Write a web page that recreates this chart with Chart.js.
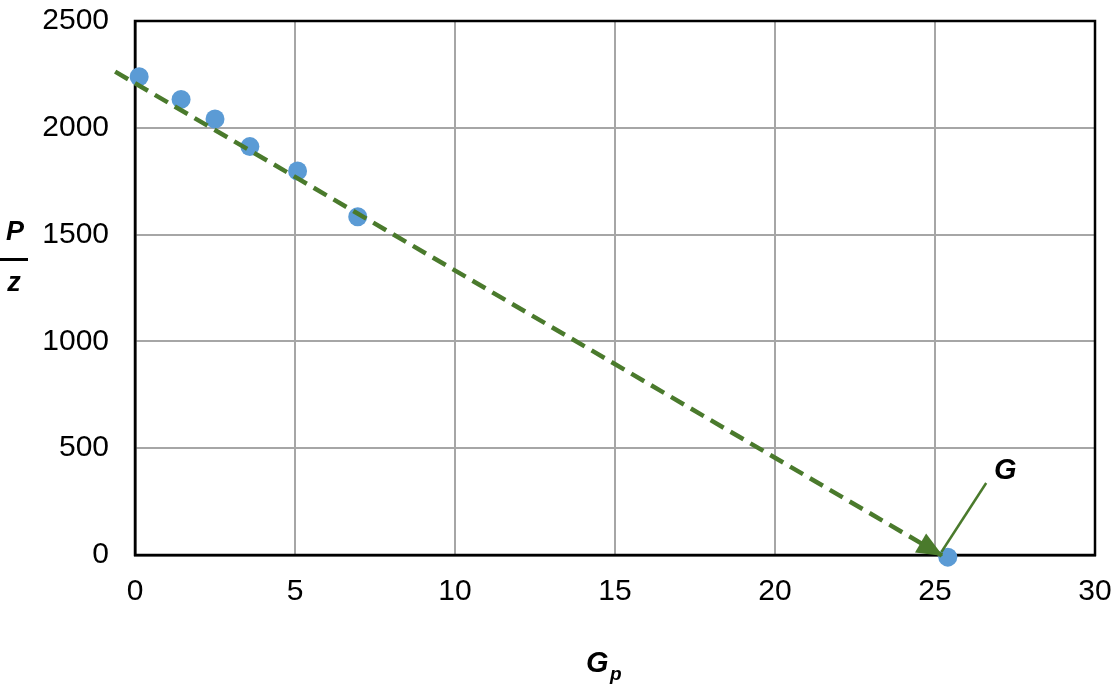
<!DOCTYPE html>
<html>
<head>
<meta charset="utf-8">
<script src="https://cdn.jsdelivr.net/npm/chart.js@4"></script>
<style>
  html, body { margin: 0; padding: 0; background: #fff; }
  #wrap { width: 1117px; height: 688px; }
</style>
</head>
<body>
<div id="wrap"><canvas id="myChart"></canvas></div>
<script>
// measured points
var gpValues = [0.13, 1.44, 2.5, 3.59, 5.08, 6.96, 25.4];
var pzValues = [2239, 2133, 2041, 1912, 1798, 1584, -10];

// dashed fit line, extended to the intercept G
var fitX = [-0.62, 25.25];
var fitY = [2263, -5];

// pointer from the "G" label to the intercept
var pointerX = [26.6, 25.2];
var pointerY = [337, 14];

var xTicks = [0, 5, 10, 15, 20, 25, 30];
var yTicks = [0, 500, 1000, 1500, 2000, 2500];

var green = '#4a7a2c';
var blue = '#5b9bd5';

function toXY(xs, ys) {
    return xs.map(function (x, i) { return { x: x, y: ys[i] }; });
}

// black frame, axis titles, arrowhead, G label
var decorations = {
    id: 'decorations',
    beforeDatasetsDraw: function (chart) {
        var a = chart.chartArea, ctx = chart.ctx;
        ctx.save();
        ctx.strokeStyle = '#000';
        ctx.lineWidth = 2.5;
        ctx.strokeRect(a.left, a.top, a.right - a.left, a.bottom - a.top);
        ctx.restore();
    },
    afterDatasetsDraw: function (chart) {
        var ctx = chart.ctx, xs = chart.scales.x, ys = chart.scales.y;
        ctx.save();

        // arrowhead at the end of the fit line
        var x0 = xs.getPixelForValue(fitX[0]), y0 = ys.getPixelForValue(fitY[0]);
        var x1 = xs.getPixelForValue(fitX[1]), y1 = ys.getPixelForValue(fitY[1]);
        var ang = Math.atan2(y1 - y0, x1 - x0);
        var len = 26, half = 11;
        ctx.fillStyle = green;
        ctx.beginPath();
        ctx.moveTo(x1, y1);
        ctx.lineTo(x1 - len * Math.cos(ang) + half * Math.sin(ang), y1 - len * Math.sin(ang) - half * Math.cos(ang));
        ctx.lineTo(x1 - len * Math.cos(ang) - half * Math.sin(ang), y1 - len * Math.sin(ang) + half * Math.cos(ang));
        ctx.closePath();
        ctx.fill();

        // G label
        ctx.fillStyle = '#000';
        ctx.font = 'italic bold 29px "Liberation Sans", Arial, sans-serif';
        ctx.textAlign = 'center';
        ctx.textBaseline = 'middle';
        ctx.fillText('G', xs.getPixelForValue(pointerX[0]) + 19, ys.getPixelForValue(pointerY[0]) - 12);

        // y title: P over z
        ctx.font = 'italic bold 27px "Liberation Sans", Arial, sans-serif';
        ctx.textBaseline = 'alphabetic';
        ctx.fillText('P', 15, 240);
        ctx.fillText('z', 14, 291);
        ctx.fillRect(0, 258, 28, 3);

        // x title: G with subscript p
        ctx.font = 'italic bold 29px "Liberation Sans", Arial, sans-serif';
        ctx.textAlign = 'left';
        ctx.fillText('G', 586, 672);
        ctx.font = 'italic bold 19px "Liberation Sans", Arial, sans-serif';
        ctx.fillText('p', 610, 680);
        ctx.restore();
    }
};

var tickFont = { family: '"Liberation Sans", Arial, sans-serif', size: 30 };

var ctx = document.getElementById('myChart').getContext('2d');
var myChart = new Chart(ctx, {
    type: 'scatter',
    data: {
        datasets: [{
                label: 'P/z',
                data: toXY(gpValues, pzValues),
                backgroundColor: blue,
                borderColor: blue,
                pointRadius: 9.5,
                pointBorderWidth: 0,
                clip: false,
                order: 2
            },
            {
                label: 'fit',
                type: 'line',
                data: toXY(fitX, fitY),
                borderColor: green,
                borderWidth: 4.5,
                borderDash: [15, 8],
                pointRadius: 0,
                fill: false,
                clip: false,
                order: 1
            },
            {
                label: 'G pointer',
                type: 'line',
                data: toXY(pointerX, pointerY),
                borderColor: green,
                borderWidth: 2.5,
                pointRadius: 0,
                fill: false,
                clip: false,
                order: 1
            }
        ]
    },
    options: {
        responsive: true,
        maintainAspectRatio: false,
        animation: false,
        layout: { padding: { left: 0, top: 21, right: 22, bottom: 0 } },
        plugins: {
            legend: { display: false },
            tooltip: { enabled: false }
        },
        scales: {
            x: {
                type: 'linear',
                min: 0,
                max: 30,
                afterBuildTicks: function (scale) {
                    scale.ticks = xTicks.map(function (v) { return { value: v }; });
                },
                afterFit: function (scale) { scale.height = 133; },
                grid: { color: '#a6a6a6', lineWidth: 2, drawTicks: true, tickLength: 19, tickColor: 'rgba(0,0,0,0)' },
                border: { color: '#000', width: 2.5 },
                ticks: {
                    color: '#000',
                    padding: 0,
                    maxRotation: 0,
                    font: tickFont,
                    callback: function (v) { return String(v); }
                }
            },
            y: {
                min: 0,
                max: 2500,
                afterBuildTicks: function (scale) {
                    scale.ticks = yTicks.map(function (v) { return { value: v }; });
                },
                afterFit: function (scale) { scale.width = 135; },
                grid: { color: '#a6a6a6', lineWidth: 2, drawTicks: true, tickLength: 26, tickColor: 'rgba(0,0,0,0)' },
                border: { color: '#000', width: 2.5 },
                ticks: {
                    color: '#000',
                    padding: 0,
                    font: tickFont,
                    callback: function (v) { return String(v); }
                }
            }
        }
    },
    plugins: [decorations]
});
</script>
</body>
</html>
